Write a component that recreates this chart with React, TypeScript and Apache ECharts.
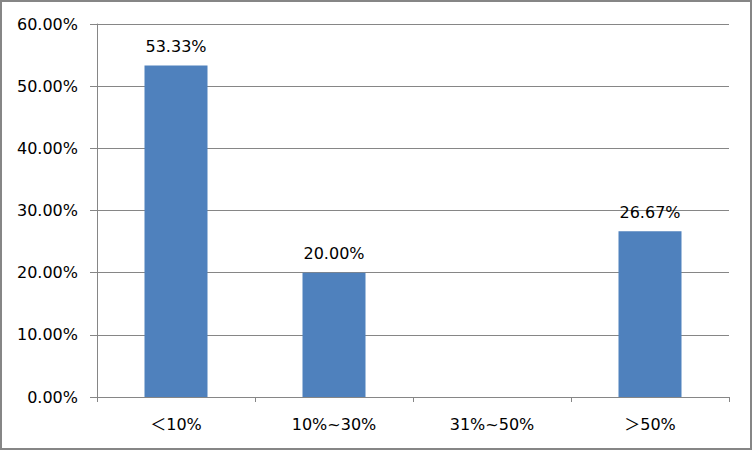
import React, { useEffect, useRef } from "react";
import * as echarts from "echarts";

const categories = ["＜10%", "10%~30%", "31%~50%", "＞50%"];
const values = [53.33, 20.0, 0, 26.67];
const yTicks = { min: 0, max: 60, interval: 10 };

const GRAY = "#868686";
const FONT = "'DejaVu Sans', 'Noto Sans CJK SC', sans-serif";

export default function App() {
  const ref = useRef<HTMLDivElement>(null);
  useEffect(() => {
    if (!ref.current) return;
    const chart = echarts.init(ref.current, undefined, { renderer: "svg" });
    chart.setOption({
      animation: false,
      backgroundColor: "#ffffff",
      textStyle: { fontFamily: FONT },
      graphic: [
        {
          type: "rect",
          shape: { x: 1, y: 1, width: 750, height: 448 },
          style: { fill: "none", stroke: GRAY, lineWidth: 2 },
          silent: true,
        },
      ],
      grid: { left: 97, right: 24, top: 24, bottom: 54, containLabel: false },
      xAxis: {
        type: "category",
        data: categories,
        boundaryGap: true,
        axisLine: { show: true, lineStyle: { color: GRAY, width: 1 } },
        axisTick: { show: true, length: 5, alignWithLabel: false, lineStyle: { color: GRAY } },
        axisLabel: { color: "#000", fontSize: 16, margin: 19, fontFamily: FONT },
        splitLine: { show: false },
      },
      yAxis: {
        type: "value",
        min: yTicks.min,
        max: yTicks.max,
        interval: yTicks.interval,
        axisLine: { show: true, lineStyle: { color: GRAY, width: 1 } },
        axisTick: { show: true, length: 7, lineStyle: { color: GRAY } },
        axisLabel: {
          color: "#000",
          fontSize: 16,
          margin: 19,
          fontFamily: FONT,
          formatter: (v: number) => v.toFixed(2) + "%",
        },
        splitLine: { show: true, lineStyle: { color: GRAY, width: 1 } },
      },
      series: [
        {
          type: "bar",
          data: values,
          barWidth: 63,
          itemStyle: { color: "#4F81BD" },
          label: {
            show: true,
            position: "top",
            distance: 11,
            color: "#000",
            fontSize: 16,
            fontFamily: FONT,
            formatter: (p: any) => (p.value ? Number(p.value).toFixed(2) + "%" : ""),
          },
        },
      ],
    });
    return () => chart.dispose();
  }, []);
  return (
    <div
      ref={ref}
      style={{ position: "fixed", left: 0, top: 0, width: 753, height: 451 }}
    />
  );
}
